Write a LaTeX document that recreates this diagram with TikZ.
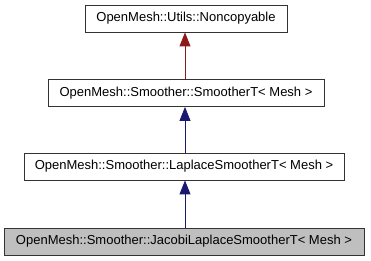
\documentclass[tikz,border=0pt]{standalone}
\usepackage{fontspec}
\setmainfont{Liberation Sans}
\usetikzlibrary{arrows.meta}
\definecolor{inhred}{HTML}{8B1A1A}
\definecolor{inhblue}{HTML}{191970}
\definecolor{curfill}{HTML}{BFBFBF}
\begin{document}
\begin{tikzpicture}[x=1pt,y=-1pt,
  classbox/.style={draw=black!80, line width=0.9pt, inner sep=0pt, minimum height=27pt, font=\fontsize{13}{15}\selectfont, anchor=center},
  inh/.style={line width=0.9pt, -{Triangle[length=14pt,width=11pt]}}]
  \useasboundingbox (0,0) rectangle (371,261);
  \node[classbox, minimum width=202pt] (nc) at (186,18.5) {OpenMesh::Utils::Noncopyable};
  \node[classbox, minimum width=276pt] (sm) at (186,93) {OpenMesh::Smoother::SmootherT< Mesh >};
  \node[classbox, minimum width=320pt] (lp) at (184,166.5) {OpenMesh::Smoother::LaplaceSmootherT< Mesh >};
  \node[classbox, minimum width=360pt, fill=curfill] (jl) at (184,241.5) {OpenMesh::Smoother::JacobiLaplaceSmootherT< Mesh >};
  % inheritance arrows point from derived class up to its base
  \draw[inh, draw=inhred, fill=inhred] (sm.north -| 185,0) -- (nc.south -| 185,0);
  \draw[inh, draw=inhblue, fill=inhblue] (lp.north -| 185,0) -- (sm.south -| 185,0);
  \draw[inh, draw=inhblue, fill=inhblue] (jl.north -| 185,0) -- (lp.south -| 185,0);
\end{tikzpicture}
\end{document}
